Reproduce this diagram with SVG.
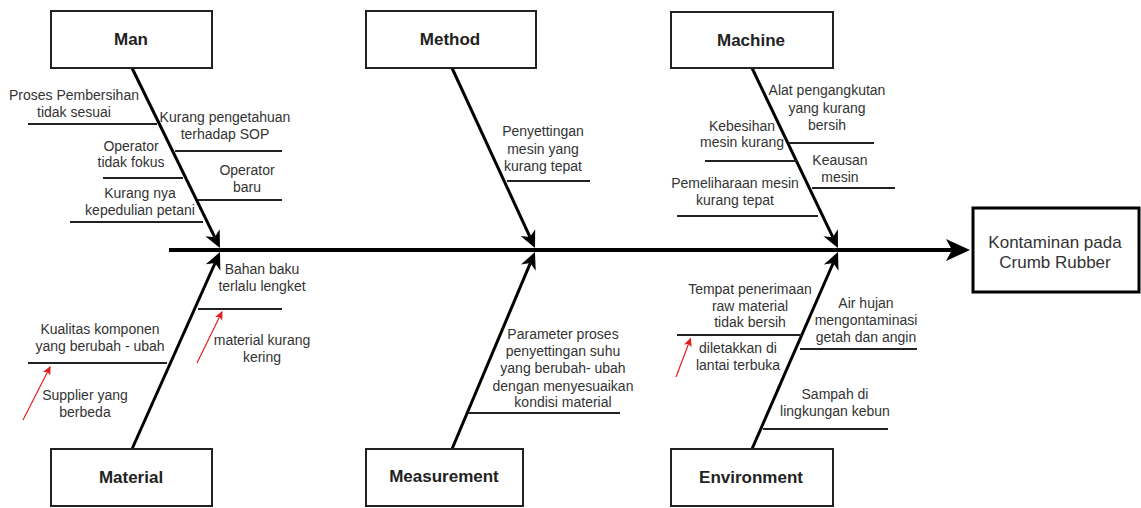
<svg xmlns="http://www.w3.org/2000/svg" width="1141" height="508" viewBox="0 0 1141 508">
<style>
.box{fill:#fff;stroke:#222;stroke-width:2}
.title{font-family:"Liberation Sans",Arial,sans-serif;font-size:17px;font-weight:bold;fill:#222;text-anchor:middle}
.lbl{font-family:"Liberation Sans",Arial,sans-serif;font-size:14px;fill:#333;text-anchor:middle}
.bone{stroke:#000;stroke-width:3;fill:none}
.spine{stroke:#000;stroke-width:4;fill:none}
.sub{stroke:#222;stroke-width:2;fill:none}
.red{stroke:#e02020;stroke-width:1.2;fill:none}
</style>
<defs>
<marker id="ah" markerUnits="userSpaceOnUse" markerWidth="20" markerHeight="20" viewBox="0 -10 20 20" refX="5" refY="0" orient="auto">
<path d="M0,-8 L17,0 L0,8 L5,0 Z" fill="#000"/>
</marker>
<marker id="ahMain" markerUnits="userSpaceOnUse" markerWidth="28" markerHeight="28" viewBox="0 -14 28 28" refX="6" refY="0" orient="auto">
<path d="M0,-11 L24,0 L0,11 L6,0 Z" fill="#000"/>
</marker>
<marker id="ahRed" markerUnits="userSpaceOnUse" markerWidth="12" markerHeight="12" viewBox="0 -6 12 12" refX="2" refY="0" orient="auto">
<path d="M0,-4 L9,0 L0,4 L2,0 Z" fill="#e02020"/>
</marker>
</defs>
<rect width="1141" height="508" fill="#fff"/>

<g id="connectors">
<line class="spine" x1="169" y1="250" x2="952" y2="250" marker-end="url(#ahMain)"/>
<line class="bone" x1="132" y1="68" x2="214.7" y2="237.2" marker-end="url(#ah)"/>
<line class="bone" x1="132" y1="449" x2="215.1" y2="263" marker-end="url(#ah)"/>
<line class="bone" x1="452" y1="68" x2="530" y2="237.1" marker-end="url(#ah)"/>
<line class="bone" x1="452" y1="449" x2="530.3" y2="263.1" marker-end="url(#ah)"/>
<line class="bone" x1="752" y1="68" x2="832.8" y2="237.2" marker-end="url(#ah)"/>
<line class="bone" x1="752" y1="449" x2="833.2" y2="263" marker-end="url(#ah)"/>
<!-- Man sub-causes -->
<line class="sub" x1="28" y1="124" x2="157" y2="124"/>
<line class="sub" x1="175" y1="151" x2="282" y2="151"/>
<line class="sub" x1="103" y1="178" x2="183" y2="178"/>
<line class="sub" x1="198" y1="200" x2="282" y2="200"/>
<line class="sub" x1="70" y1="222" x2="203" y2="222"/>
<!-- Material sub-causes -->
<line class="sub" x1="198" y1="309" x2="282" y2="309"/>
<line class="sub" x1="28" y1="363" x2="167" y2="363"/>
<line class="red" x1="197" y1="363" x2="219.5" y2="317" marker-end="url(#ahRed)"/>
<line class="red" x1="23" y1="420" x2="47.5" y2="372" marker-end="url(#ahRed)"/>
<!-- Method -->
<line class="sub" x1="507" y1="181" x2="590" y2="181"/>
<!-- Measurement -->
<line class="sub" x1="468" y1="413" x2="620" y2="413"/>
<!-- Machine -->
<line class="sub" x1="789" y1="143" x2="874" y2="143"/>
<line class="sub" x1="705" y1="161" x2="797" y2="161"/>
<line class="sub" x1="812" y1="188" x2="895" y2="188"/>
<line class="sub" x1="677" y1="216" x2="818" y2="216"/>
<!-- Environment -->
<line class="sub" x1="677" y1="335" x2="802" y2="335"/>
<line class="sub" x1="800" y1="349" x2="917" y2="349"/>
<line class="sub" x1="763" y1="429" x2="888" y2="429"/>
<line class="red" x1="676" y1="377" x2="688.5" y2="344" marker-end="url(#ahRed)"/>
</g>

<g id="node-man">
<rect class="box" x="51" y="11" width="161" height="57"/>
<text class="title" x="131" y="45">Man</text>
</g>
<g id="node-method">
<rect class="box" x="366" y="11" width="170" height="57"/>
<text class="title" x="450" y="45">Method</text>
</g>
<g id="node-machine">
<rect class="box" x="671" y="12" width="162" height="56"/>
<text class="title" x="751" y="46">Machine</text>
</g>
<g id="node-material">
<rect class="box" x="51" y="449" width="161" height="57"/>
<text class="title" x="131" y="483">Material</text>
</g>
<g id="node-measurement">
<rect class="box" x="366" y="449" width="157" height="57"/>
<text class="title" x="444" y="482">Measurement</text>
</g>
<g id="node-environment">
<rect class="box" x="671" y="449" width="162" height="57"/>
<text class="title" x="751" y="483">Environment</text>
</g>
<g id="node-effect">
<rect x="973" y="208" width="166" height="84" fill="#fff" stroke="#000" stroke-width="3"/>
<text class="lbl" style="font-size:17px" x="1055" y="248">Kontaminan pada</text>
<text class="lbl" style="font-size:17px" x="1055" y="268">Crumb Rubber</text>
</g>

<g id="labels">
<text class="lbl" x="74" y="100">Proses Pembersihan</text>
<text class="lbl" x="74" y="117">tidak sesuai</text>
<text class="lbl" x="225" y="122">Kurang pengetahuan</text>
<text class="lbl" x="225" y="139">terhadap SOP</text>
<text class="lbl" x="131" y="151">Operator</text>
<text class="lbl" x="131" y="167">tidak fokus</text>
<text class="lbl" x="247" y="175">Operator</text>
<text class="lbl" x="247" y="192">baru</text>
<text class="lbl" x="140" y="198">Kurang nya</text>
<text class="lbl" x="140" y="215">kepedulian petani</text>

<text class="lbl" x="262" y="274">Bahan baku</text>
<text class="lbl" x="262" y="291">terlalu lengket</text>
<text class="lbl" x="100" y="334">Kualitas komponen</text>
<text class="lbl" x="100" y="351">yang berubah - ubah</text>
<text class="lbl" x="262" y="345">material kurang</text>
<text class="lbl" x="262" y="362">kering</text>
<text class="lbl" x="85" y="400">Supplier yang</text>
<text class="lbl" x="85" y="417">berbeda</text>

<text class="lbl" x="543" y="136">Penyettingan</text>
<text class="lbl" x="543" y="154">mesin yang</text>
<text class="lbl" x="543" y="171">kurang tepat</text>

<text class="lbl" x="563" y="339">Parameter proses</text>
<text class="lbl" x="563" y="356">penyettingan suhu</text>
<text class="lbl" x="563" y="373">yang berubah- ubah</text>
<text class="lbl" x="563" y="391">dengan menyesuaikan</text>
<text class="lbl" x="563" y="407">kondisi material</text>

<text class="lbl" x="827" y="95">Alat pengangkutan</text>
<text class="lbl" x="827" y="113">yang kurang</text>
<text class="lbl" x="827" y="130">bersih</text>
<text class="lbl" x="742" y="131">Kebesihan</text>
<text class="lbl" x="742" y="147">mesin kurang</text>
<text class="lbl" x="840" y="165">Keausan</text>
<text class="lbl" x="840" y="182">mesin</text>
<text class="lbl" x="735" y="188">Pemeliharaan mesin</text>
<text class="lbl" x="735" y="205">kurang tepat</text>

<text class="lbl" x="750" y="294">Tempat penerimaan</text>
<text class="lbl" x="750" y="311">raw material</text>
<text class="lbl" x="750" y="327">tidak bersih</text>
<text class="lbl" x="866" y="308">Air hujan</text>
<text class="lbl" x="866" y="325">mengontaminasi</text>
<text class="lbl" x="866" y="342">getah dan angin</text>
<text class="lbl" x="738" y="353">diletakkan di</text>
<text class="lbl" x="738" y="370">lantai terbuka</text>
<text class="lbl" x="835" y="399">Sampah di</text>
<text class="lbl" x="835" y="416">lingkungan kebun</text>
</g>
</svg>
